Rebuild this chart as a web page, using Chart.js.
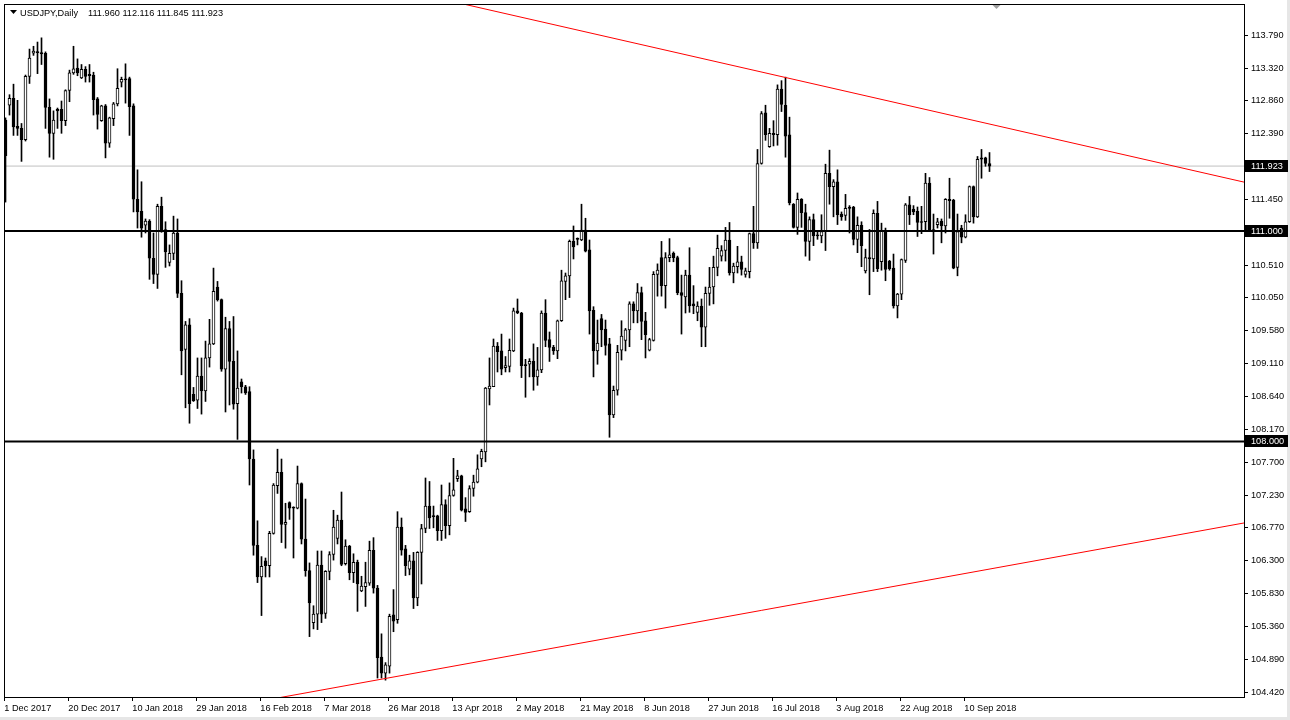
<!DOCTYPE html>
<html><head><meta charset="utf-8">
<script src="https://cdn.jsdelivr.net/npm/chart.js@4.4.1/dist/chart.umd.min.js"></script>
<style>html,body{margin:0;padding:0;background:#fff;overflow:hidden}#wrap{width:1290px;height:720px;position:relative}</style>
</head><body><div id="wrap"><canvas id="c" width="1290" height="720"></canvas></div>
<script>
const symbol = 'USDJPY';
const timeframe = 'Daily';
const opens = [
112.58,112.79,112.89,112.49,112.46,112.30,113.20,113.53,113.54,113.54,
113.53,112.76,112.39,112.71,112.73,112.57,113.00,113.25,113.32,113.18,
113.30,113.21,113.22,112.88,112.57,112.78,112.25,112.60,112.81,113.12,
113.15,113.17,112.78,111.45,111.28,111.08,111.14,110.61,110.38,111.35,
111.02,110.55,110.68,110.97,110.11,109.31,109.66,108.67,108.59,108.93,
108.72,109.19,109.39,110.20,110.02,109.03,109.61,109.14,108.54,108.85,
108.78,108.71,107.75,106.52,106.07,106.30,106.23,106.69,107.37,107.56,
106.82,107.13,107.05,107.05,107.40,106.61,106.16,105.42,105.54,106.24,
105.55,106.15,106.39,106.62,106.88,106.26,106.51,106.13,106.28,105.87,
105.93,105.98,106.45,105.91,104.93,104.70,104.80,105.53,105.46,106.78,
106.47,106.18,106.30,105.77,106.42,106.76,107.08,106.94,106.94,106.73,
107.10,106.80,107.23,107.47,107.51,107.04,107.00,107.33,107.42,107.75,
107.85,108.75,108.78,109.36,109.29,109.05,109.07,109.29,109.86,109.83,
109.09,109.10,109.14,108.92,109.02,109.83,109.45,109.34,109.29,109.72,
110.28,110.36,110.85,110.88,110.87,111.01,110.73,109.87,109.29,109.75,
109.60,109.39,108.38,108.73,109.30,109.44,109.59,109.96,109.86,110.12,
109.72,109.30,109.44,110.38,110.62,110.22,110.62,110.68,110.62,110.12,
110.06,110.37,109.96,109.84,109.93,109.63,110.11,110.20,110.48,110.64,
110.72,110.87,110.40,110.49,110.56,110.38,110.42,110.96,110.83,111.96,
112.68,112.20,112.37,112.37,113.02,112.79,112.37,111.38,111.05,111.45,
111.26,110.85,111.16,110.94,110.93,110.99,111.82,111.63,111.70,111.24,
111.22,111.34,111.34,110.88,111.08,110.43,110.62,110.60,111.25,110.56,
111.00,110.57,110.47,109.93,110.10,110.58,111.37,111.31,111.28,111.13,
111.13,111.68,111.02,111.09,111.14,111.07,111.45,111.44,110.48,111.04,
110.91,111.13,111.63,111.20,112.04,112.04,111.960];
const highs = [
112.61,112.94,113.09,112.86,112.53,113.22,113.59,113.63,113.69,113.75,
113.55,112.88,112.71,112.75,112.85,113.01,113.29,113.63,113.45,113.37,
113.34,113.37,113.26,112.90,112.79,112.80,112.62,112.83,113.31,113.19,
113.38,113.19,112.81,111.87,111.70,111.17,111.16,110.97,111.38,111.48,
111.13,110.80,111.21,111.17,110.29,109.71,109.75,108.77,109.19,109.19,
109.43,109.74,110.47,110.28,110.03,109.77,109.71,109.78,109.29,108.89,
108.80,108.78,107.88,106.87,106.36,106.34,106.72,107.40,107.89,107.75,
107.12,107.14,107.07,107.65,107.41,107.18,106.27,105.66,106.44,106.44,
106.16,106.43,107.02,106.95,107.28,106.60,106.52,106.40,106.31,106.08,
106.28,106.58,106.63,105.95,105.26,104.85,105.54,105.89,107.00,106.91,
106.52,106.38,106.42,106.43,106.82,107.48,107.43,107.08,106.95,107.38,
107.17,107.41,107.76,107.59,107.52,107.20,107.37,107.52,107.81,107.89,
108.77,109.19,109.46,109.41,109.53,109.21,109.46,109.90,110.03,109.84,
109.17,109.18,109.39,109.34,109.86,110.02,109.56,109.37,109.73,110.44,
110.40,110.87,111.07,110.90,111.38,111.18,110.87,109.92,109.73,109.81,
109.73,109.47,108.79,109.37,109.72,109.61,109.99,109.99,110.25,110.20,
109.84,109.47,110.42,110.53,110.85,110.69,110.89,110.70,110.64,110.37,
110.44,110.76,110.22,109.99,110.03,110.20,110.48,110.64,110.94,110.79,
111.05,111.12,110.54,110.78,110.64,110.47,110.97,111.35,112.16,112.70,
112.79,112.46,112.57,113.08,113.14,113.19,112.62,111.39,111.54,111.46,
111.38,111.20,111.24,110.98,111.23,111.95,112.15,111.73,111.87,111.27,
111.52,111.36,111.35,111.20,111.13,110.74,111.02,111.30,111.42,111.11,
111.04,110.58,110.67,110.11,110.60,111.39,111.49,111.36,111.34,111.35,
111.82,111.76,111.24,111.18,111.17,111.46,111.75,111.45,111.24,111.08,
111.23,111.64,111.64,112.06,112.16,112.05,112.116];
const lows = [
111.41,112.65,112.36,112.36,111.99,112.28,113.10,113.50,113.24,113.37,
112.46,112.05,112.02,112.46,112.39,112.50,112.84,113.23,113.21,113.17,
113.12,113.12,112.65,112.45,112.56,112.04,112.19,112.50,112.78,113.05,
112.82,112.36,111.27,111.04,110.91,110.97,110.31,110.25,110.18,110.98,
110.48,110.50,110.59,110.05,108.95,108.48,108.26,108.57,108.47,108.39,
108.57,109.06,109.38,110.00,109.00,108.42,108.52,108.46,108.03,108.69,
108.67,107.38,106.38,105.99,105.52,106.07,106.07,106.68,107.26,106.56,
106.48,106.89,106.34,107.04,106.54,106.08,105.22,105.33,105.32,105.42,
105.48,106.03,106.31,106.54,106.23,106.24,106.03,105.99,105.58,105.86,
105.65,105.95,105.84,104.63,104.63,104.60,104.70,105.29,105.41,106.38,
106.09,106.10,105.62,105.66,105.97,106.70,106.76,106.77,106.59,106.59,
106.62,106.67,107.22,107.43,107.01,106.86,106.99,107.22,107.41,107.64,
107.71,108.52,108.78,108.99,108.95,108.99,108.99,109.28,109.82,108.91,
108.63,108.92,108.73,108.80,108.98,109.35,109.14,109.24,109.18,109.71,
110.02,110.05,110.60,110.80,110.86,110.70,109.53,108.92,109.10,109.35,
109.23,108.06,108.34,108.66,109.16,109.29,109.35,109.69,109.69,109.45,
109.19,109.29,109.43,110.07,110.07,109.90,110.56,110.56,110.09,109.53,
109.83,109.84,109.82,109.72,109.35,109.35,109.94,109.96,110.36,110.57,
110.57,110.37,110.26,110.40,110.37,110.34,110.33,110.75,110.75,111.95,
112.29,112.19,112.21,112.22,112.70,112.05,111.37,111.04,110.95,111.05,
110.64,110.58,110.79,110.88,110.83,110.72,111.38,111.20,111.09,111.15,
111.15,110.97,110.80,110.69,110.49,110.40,110.09,110.42,110.42,110.44,
110.29,110.44,109.90,109.76,110.02,110.55,111.09,111.23,110.92,110.96,
111.00,110.99,110.67,111.04,110.83,110.97,111.18,110.46,110.36,110.83,
110.90,111.12,111.11,111.19,111.75,111.92,111.845];
const closes = [
112.07,112.89,112.48,112.46,112.30,113.20,113.46,113.56,113.55,113.52,
112.76,112.39,112.58,112.73,112.57,113.00,113.25,113.31,113.25,113.30,
113.20,113.23,112.87,112.66,112.78,112.25,112.61,112.81,113.03,113.16,
113.16,112.77,111.45,111.27,111.04,111.14,110.61,110.38,111.35,111.01,
110.70,110.68,110.97,110.11,109.29,109.66,108.54,108.58,108.93,108.72,
109.19,109.39,110.14,110.02,109.03,109.61,109.14,108.53,108.76,108.78,
108.69,107.75,106.52,106.07,106.22,106.23,106.69,107.38,107.56,106.82,
106.85,107.05,107.06,107.40,106.61,106.16,105.70,105.54,106.24,105.54,
106.15,106.39,106.78,106.88,106.25,106.51,106.13,106.28,105.97,105.94,
105.99,106.45,105.91,104.92,104.70,104.82,105.51,105.44,106.78,106.45,
106.23,106.30,105.77,106.42,106.76,107.08,106.91,106.93,106.73,107.10,
106.80,107.23,107.31,107.51,107.02,106.99,107.33,107.42,107.61,107.86,
108.76,108.79,109.36,109.28,109.03,109.08,109.30,109.86,109.83,109.08,
109.08,109.14,108.92,109.02,109.83,109.44,109.34,109.29,109.72,110.29,
110.36,110.85,110.77,110.89,111.01,110.71,109.86,109.29,109.40,109.59,
109.37,108.38,108.73,109.27,109.50,109.59,109.96,109.86,110.12,109.71,
109.52,109.45,110.38,110.44,110.22,110.62,110.66,110.62,110.12,110.08,
110.37,109.93,109.93,109.93,109.63,110.11,110.20,110.48,110.75,110.72,
110.87,110.40,110.50,110.56,110.45,110.43,110.96,110.83,111.96,112.67,
112.37,112.39,112.39,113.02,112.80,112.35,111.40,111.05,111.45,111.26,
110.85,111.16,110.93,110.93,110.99,111.82,111.63,111.70,111.23,111.20,
111.32,111.32,110.88,111.08,110.79,110.62,110.60,111.25,110.46,111.00,
110.45,110.46,109.93,110.10,110.59,111.37,111.23,111.27,111.12,111.12,
111.68,111.00,111.00,111.13,111.07,111.45,111.43,110.47,110.99,110.91,
111.13,111.63,111.20,112.02,112.02,111.96,111.923];

// horizontal levels, trend lines (two anchor points each: bar index, price)
const levels = [111.000, 108.000];
const trendTopX = [100, 310];
const trendTopY = [114.42, 111.69];
const trendBotX = [60, 310];
const trendBotY = [104.263, 106.843];

// axis ticks
const dateTickIndex = [0,16,32,48,64,80,96,112,128,144,160,176,192,208,224,240];
const dateTickLabels = ['1 Dec 2017','20 Dec 2017','10 Jan 2018','29 Jan 2018','16 Feb 2018','7 Mar 2018','26 Mar 2018','13 Apr 2018','2 May 2018','21 May 2018','8 Jun 2018','27 Jun 2018','16 Jul 2018','3 Aug 2018','22 Aug 2018','10 Sep 2018'];
const priceTicks = [113.790,113.320,112.860,112.390,111.450,110.510,110.050,109.580,109.110,108.640,108.170,107.700,107.230,106.770,106.300,105.830,105.360,104.890,104.420];

const XMIN = -0.375, XMAX = 309.625;
const YMIN = 104.360, YMAX = 114.232;
const FONT = "'Liberation Sans', Arial, sans-serif";
const FS = 9.2;

Chart.defaults.font.family = FONT;
Chart.defaults.font.size = FS;
Chart.defaults.color = '#000';

const n = closes.length;
const bodyData = opens.map((o, i) => ({x: i, y: [o, closes[i]]}));
const wickData = lows.map((l, i) => ({x: i, y: [l, highs[i]]}));
const bid = closes[n - 1];

function seg(xs, ys) { return xs.map((x, i) => ({x: x, y: ys[i]})); }
function hline(v) { return [{x: XMIN, y: v}, {x: XMAX, y: v}]; }

const deco = {
  id: 'deco',
  beforeDraw(chart) {
    const {ctx, width, height} = chart;
    ctx.save();
    ctx.fillStyle = '#e6e6e6';
    ctx.fillRect(width - 3, 0, 3, height);
    ctx.fillRect(0, height - 3, width, 3);
    ctx.restore();
  },
  afterDraw(chart) {
    const {ctx, chartArea: a, scales} = chart;
    const ys = scales.y, xs = scales.x;
    ctx.save();
    // frame
    ctx.strokeStyle = '#000';
    ctx.lineWidth = 1;
    ctx.strokeRect(Math.round(a.left) + 0.5, Math.round(a.top) + 0.5, Math.round(a.right - a.left), Math.round(a.bottom - a.top));
    // chart shift marker
    const sx = Math.round(xs.getPixelForValue(n - 1 + 1.5)) + 0.5;
    ctx.fillStyle = '#a0a0a0';
    ctx.beginPath();
    ctx.moveTo(sx - 4, a.top + 1); ctx.lineTo(sx + 4, a.top + 1); ctx.lineTo(sx, a.top + 5); ctx.closePath(); ctx.fill();
    // header
    ctx.fillStyle = '#000';
    ctx.beginPath();
    ctx.moveTo(10, 10); ctx.lineTo(17, 10); ctx.lineTo(13.5, 14); ctx.closePath(); ctx.fill();
    ctx.font = FS + 'px ' + FONT;
    ctx.textBaseline = 'middle';
    ctx.textAlign = 'left';
    ctx.fillText(symbol + ',' + timeframe, 20, 13);
    ctx.fillText([opens[n-1], highs[n-1], lows[n-1], closes[n-1]].map(v => v.toFixed(3)).join(' '), 88, 13);
    // price markers
    const marks = [bid].concat(levels);
    marks.forEach(v => {
      const py = Math.round(ys.getPixelForValue(v));
      ctx.fillStyle = '#000';
      ctx.fillRect(Math.round(a.right) + 1, py - 6, 43, 12);
      ctx.fillStyle = '#fff';
      ctx.fillText(v.toFixed(3), Math.round(a.right) + 7, py + 0.5);
    });
    ctx.restore();
  }
};

new Chart(document.getElementById('c'), {
  type: 'bar',
  data: {
    datasets: [
      {type: 'line', data: seg(trendTopX, trendTopY), borderColor: '#ff0000', borderWidth: 1, pointRadius: 0, tension: 0, order: 0, clip: 0},
      {type: 'line', data: seg(trendBotX, trendBotY), borderColor: '#ff0000', borderWidth: 1, pointRadius: 0, tension: 0, order: 0, clip: 0},
      {type: 'line', data: hline(levels[0]), borderColor: '#000', borderWidth: 2, pointRadius: 0, order: 1, clip: 0},
      {type: 'line', data: hline(levels[1]), borderColor: '#000', borderWidth: 2, pointRadius: 0, order: 1, clip: 0},
      {type: 'bar', data: bodyData, barThickness: 3, borderWidth: 1, borderColor: '#000', borderSkipped: false,
        backgroundColor: c => { const i = c.dataIndex; const d = closes[i] - opens[i]; return (d > 0.025) ? '#ffffff' : '#000000'; },
        grouped: false, minBarLength: 1, order: 2},
      {type: 'bar', data: wickData, barThickness: 1, borderWidth: 0, backgroundColor: '#000', grouped: false, order: 3},
      {type: 'line', data: hline(bid), borderColor: '#c0c0c0', borderWidth: 1, pointRadius: 0, order: 4, clip: 0}
    ]
  },
  options: {
    responsive: false,
    animation: false,
    events: [],
    layout: {padding: {left: 4, top: 4, right: 0, bottom: 0}},
    plugins: {legend: {display: false}, tooltip: {enabled: false}, title: {display: false}},
    scales: {
      x: {
        type: 'linear', position: 'bottom', min: XMIN, max: XMAX, offset: false,
        grid: {display: true, drawOnChartArea: false, drawTicks: true, tickLength: 4, color: '#000', offset: false},
        border: {display: false},
        ticks: {autoSkip: false, maxRotation: 0, minRotation: 0, align: 'start', padding: 2, color: '#000',
          callback: (v, i) => dateTickLabels[i]},
        afterBuildTicks: s => { s.ticks = dateTickIndex.map(i => ({value: i - 0.3})); },
        afterFit: s => { s.height = 23; s.paddingLeft = 0; s.paddingRight = 0; }
      },
      y: {
        type: 'linear', position: 'right', min: YMIN, max: YMAX,
        grid: {display: true, drawOnChartArea: false, drawTicks: true, tickLength: 4, color: '#000'},
        border: {display: false},
        ticks: {padding: 3, color: '#000', autoSkip: false, callback: v => Number(v).toFixed(3)},
        afterBuildTicks: s => { s.ticks = priceTicks.map(v => ({value: v})); },
        afterFit: s => { s.width = 46; s.paddingTop = 0; s.paddingBottom = 0; }
      }
    }
  },
  plugins: [deco]
});
</script>
</body></html>
